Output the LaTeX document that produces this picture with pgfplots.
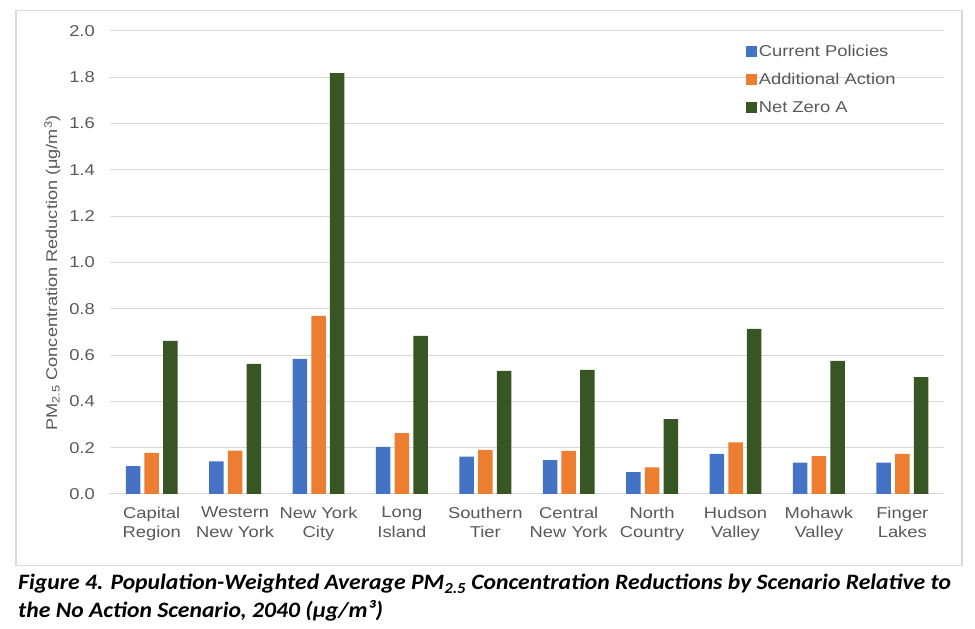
\documentclass[border=0pt]{standalone}
\usepackage{pgfplots}
\pgfplotsset{compat=1.18}
\usepackage{fontspec}
\setmainfont{Liberation Sans}[FakeStretch=1.17]
\newfontfamily\capfont{Carlito}[FakeStretch=1.075]
\definecolor{cpblue}{HTML}{4472C4}
\definecolor{aaorange}{HTML}{ED7D31}
\definecolor{nzgreen}{HTML}{375623}
\definecolor{gridgray}{HTML}{D9D9D9}
\definecolor{tickgray}{HTML}{595959}
\begin{document}
\begin{tikzpicture}[x=1pt,y=1pt]
\path[use as bounding box] (0,0) rectangle (975,629);
\draw[color=gridgray, line width=1.5pt] (16,63.3) rectangle (962,618.3);
\begin{axis}[
  at={(110pt,135pt)}, anchor=south west,
  scale only axis, width=834pt, height=463.3pt,
  ymin=0, ymax=2, xmin=-0.5, xmax=9.5,
  ybar=4.2pt, bar width=14.5pt,
  ytick={0,0.2,0.4,0.6,0.8,1.0,1.2,1.4,1.6,1.8,2.0},
  yticklabel style={/pgf/number format/fixed, /pgf/number format/fixed zerofill, /pgf/number format/precision=1},
  /pgf/number format/assume math mode=true,
  xtick={0,1,2,3,4,5,6,7,8,9},
  xticklabels={Capital\\Region, Western\\New York, New York\\City, Long\\Island, Southern\\Tier, Central\\New York, North\\Country, Hudson\\Valley, Mohawk\\Valley, Finger\\Lakes},
  axis line style={draw=none},
  major tick length=0pt,
  ymajorgrids, grid style={gridgray, line width=1pt},
  tick label style={font=\fontsize{15.7}{19.4}\selectfont, text=tickgray},
  xticklabel style={align=center, anchor=north, inner sep=0pt, yshift=-13pt},
  yticklabel style={anchor=east, inner sep=0pt, xshift=-15pt},
  ylabel={PM\textsubscript{2.5} Concentration Reduction (μg/m\textsuperscript{3})},
  ylabel style={at={(axis description cs:-0.0635,0.477)}, anchor=base, font=\fontsize{15.5}{19.4}\selectfont, text=tickgray, inner sep=0pt},
  legend style={at={(0.7585,0.978)}, anchor=north west, draw=none, fill=none,
    font=\fontsize{15.7}{19.4}\selectfont, text=tickgray, row sep=11.5pt,
    cells={anchor=west}},
  legend image code/.code={\fill[#1] (0pt,-5.5pt) rectangle (11pt,5.5pt);},
]
\addplot[fill=cpblue, draw=none] coordinates {(0,0.120) (1,0.141) (2,0.583) (3,0.203) (4,0.161) (5,0.146) (6,0.094) (7,0.173) (8,0.135) (9,0.135)};
\addplot[fill=aaorange, draw=none] coordinates {(0,0.178) (1,0.187) (2,0.769) (3,0.263) (4,0.190) (5,0.186) (6,0.115) (7,0.223) (8,0.164) (9,0.173)};
\addplot[fill=nzgreen, draw=none] coordinates {(0,0.661) (1,0.562) (2,1.817) (3,0.683) (4,0.531) (5,0.536) (6,0.323) (7,0.713) (8,0.575) (9,0.505)};
\legend{Current Policies, Additional Action, Net Zero A}
\end{axis}
\node[anchor=base west, inner sep=0pt, font=\capfont\bfseries\itshape\fontsize{22}{28}\selectfont] at (18,39) {Figure 4. Population-Weighted Average PM\textsubscript{2.5} Concentration Reductions by Scenario Relative to};
\node[anchor=base west, inner sep=0pt, font=\capfont\bfseries\itshape\fontsize{22}{28}\selectfont] at (18,11) {the No Action Scenario, 2040 (μg/m³)};
\end{tikzpicture}
\end{document}
